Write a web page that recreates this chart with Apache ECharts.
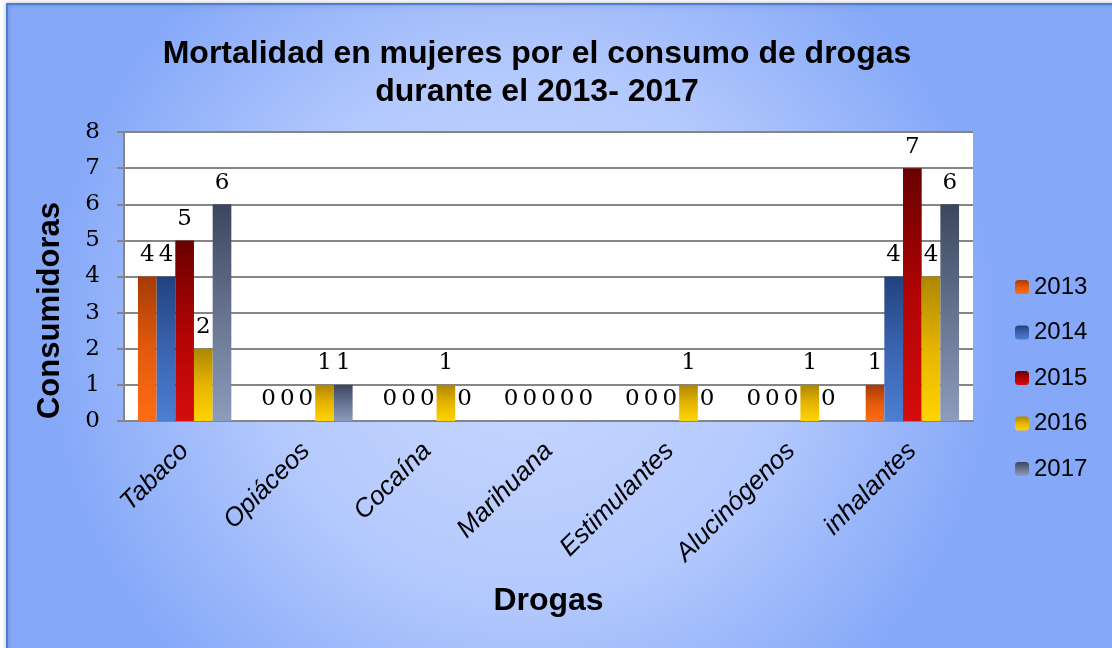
<!DOCTYPE html>
<html>
<head>
<meta charset="utf-8">
<title>Mortalidad en mujeres por el consumo de drogas</title>
<script src="https://cdn.jsdelivr.net/npm/echarts@6/dist/echarts.min.js"></script>
<style>
  html, body { margin: 0; padding: 0; background: #fff; }
  #chart { width: 1112px; height: 648px; }
</style>
</head>
<body>
<div id="chart"></div>
<script>
// Drug categories and deaths per year
const categories = ['Tabaco', 'Opiáceos', 'Cocaína', 'Marihuana', 'Estimulantes', 'Alucinógenos', 'inhalantes'];
const years = ['2013', '2014', '2015', '2016', '2017'];
const v2013 = [4, 0, 0, 0, 0, 0, 1];
const v2014 = [4, 0, 0, 0, 0, 0, 4];
const v2015 = [5, 0, 0, 0, 0, 0, 7];
const v2016 = [2, 1, 1, 0, 1, 1, 4];
const v2017 = [6, 1, 0, 0, 0, 0, 6];
const yTicks = [0, 1, 2, 3, 4, 5, 6, 7, 8];

const seriesValues = [v2013, v2014, v2015, v2016, v2017];
// top (dark) -> bottom (light) shading for each year's bars
const barShades = [
  ['#a63a06', '#e25a0c', '#ff6c14'],
  ['#22427e', '#3a64b0', '#4c7ed2'],
  ['#680000', '#b00404', '#d40c0c'],
  ['#ad8700', '#e6b400', '#ffd400'],
  ['#3c465e', '#66738f', '#8d9cbc']
];

function shade(c) {
  return new echarts.graphic.LinearGradient(0, 0, 0, 1, [
    { offset: 0, color: c[0] },
    { offset: 0.5, color: c[1] },
    { offset: 1, color: c[2] }
  ]);
}

const chart = echarts.init(document.getElementById('chart'), null, { renderer: 'canvas' });

const series = years.map((y, i) => ({
  name: y,
  type: 'bar',
  data: seriesValues[i],
  barGap: 0,
  barCategoryGap: '23%',
  itemStyle: { color: shade(barShades[i]) },
  label: {
    show: true,
    position: 'top',
    distance: 10,
    fontFamily: 'DejaVu Serif',
    fontSize: 23,
    color: '#000'
  }
}));

chart.setOption({
  backgroundColor: '#ffffff',
  animation: false,
  graphic: [{
    type: 'rect',
    z: -10,
    silent: true,
    shape: { x: 7, y: 4, width: 1120, height: 660 },
    style: {
      fill: new echarts.graphic.RadialGradient(0.46, 0.5, 0.72, [
        { offset: 0, color: '#c9d8ff' },
        { offset: 0.55, color: '#b4c9fd' },
        { offset: 1, color: '#85a8f8' }
      ]),
      stroke: '#4a7ed6',
      lineWidth: 2,
      shadowColor: 'rgba(0,0,0,0.25)',
      shadowBlur: 4
    }
  }],
  title: {
    text: 'Mortalidad en mujeres por el consumo de drogas\ndurante el 2013- 2017',
    left: 537,
    top: 35,
    textAlign: 'center',
    padding: 0,
    textStyle: {
      fontFamily: 'Liberation Sans',
      fontWeight: 'bold',
      fontSize: 32,
      lineHeight: 38,
      color: '#000'
    }
  },
  legend: {
    orient: 'vertical',
    left: 1015,
    top: 275,
    padding: 0,
    itemWidth: 14,
    itemHeight: 14,
    itemGap: 21.5,
    textStyle: {
      fontFamily: 'Liberation Sans',
      fontSize: 24,
      color: '#000',
      padding: [0, 0, 0, 0]
    },
    data: years
  },
  grid: {
    left: 124,
    right: 139,
    top: 132,
    bottom: 227,
    show: true,
    backgroundColor: '#ffffff',
    borderWidth: 0
  },
  xAxis: {
    type: 'category',
    data: categories,
    name: 'Drogas',
    nameLocation: 'middle',
    nameGap: 164,
    nameTextStyle: {
      fontFamily: 'Liberation Sans',
      fontWeight: 'bold',
      fontSize: 32,
      color: '#000'
    },
    axisLine: { lineStyle: { color: '#858585', width: 2 } },
    axisTick: { show: false },
    axisLabel: {
      rotate: 45,
      margin: 26,
      fontFamily: 'Liberation Sans',
      fontStyle: 'italic',
      fontSize: 26,
      color: '#000'
    }
  },
  yAxis: {
    type: 'value',
    min: yTicks[0],
    max: yTicks[yTicks.length - 1],
    interval: 1,
    name: 'Consumidoras',
    nameLocation: 'middle',
    nameRotate: 90,
    nameGap: 58,
    nameTextStyle: {
      fontFamily: 'Liberation Sans',
      fontWeight: 'bold',
      fontSize: 31,
      color: '#000',
      padding: [0, 68, 0, 0]
    },
    axisLine: { show: true, lineStyle: { color: '#858585', width: 2 } },
    axisTick: { show: true, length: 7, lineStyle: { color: '#858585', width: 2 } },
    axisLabel: {
      margin: 24,
      fontFamily: 'DejaVu Serif',
      fontSize: 23,
      color: '#000'
    },
    splitLine: { lineStyle: { color: '#858585', width: 2 } }
  },
  series: series
});
</script>
</body>
</html>
